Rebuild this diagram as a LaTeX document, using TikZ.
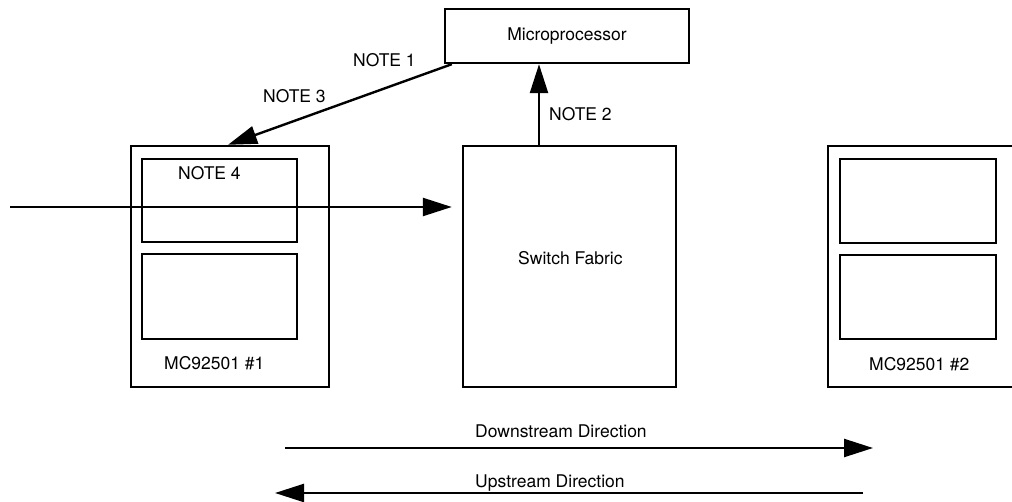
\documentclass[tikz,border=0pt]{standalone}
\usepackage{fontspec}
\setmainfont{TeX Gyre Heros}
\usetikzlibrary{arrows.meta}

\begin{document}
\begin{tikzpicture}[x=1pt, y=-1pt, line width=2.4pt,
    blk/.style={draw, rectangle, inner sep=0pt},
    txt/.style={inner sep=0pt, anchor=base west, font=\fontsize{17.5}{20}\selectfont},
    arr/.style={-{Triangle[length=29pt, width=18pt]}}]
		%%%%% START %%%%%
		\clip (0,0) rectangle (1012,502);
		
		\node[blk, minimum width=244pt, minimum height=54pt, font=\fontsize{17.5}{20}\selectfont] (micro) at (567,36) {Microprocessor};
		
		\node[blk, minimum width=213pt, minimum height=241pt] (fabric) at (569.5,266.5) {};
		\node[txt] (fabriclbl) at (517,265) {Switch Fabric};
		
		\node[blk, minimum width=198pt, minimum height=241pt] (dev1) at (230,266.5) {};
		\node[blk, minimum width=155pt, minimum height=83pt] (dev1a) at (219.5,200.5) {};
		\node[blk, minimum width=155pt, minimum height=85pt] (dev1b) at (219.5,296.5) {};
		\node[txt] (dev1lbl) at (163,370) {MC92501 \#1};
		\node[txt] (note4) at (177,180) {NOTE 4};
		
		\node[blk, minimum width=198pt, minimum height=241pt] (dev2) at (927,266.5) {};
		\node[blk, minimum width=156pt, minimum height=84pt] (dev2a) at (918,201) {};
		\node[blk, minimum width=156pt, minimum height=84pt] (dev2b) at (918,297) {};
		\node[txt] (dev2lbl) at (868,371) {MC92501 \#2};
		
		\coordinate (in) at (10,207);
		\draw[arr, shorten >=10pt] (in) -- (in -| fabric.west);
		
		\draw[arr] ([xshift=8pt]micro.south west) -- ([xshift=-2pt]dev1.north);
		\node[txt] (note1) at (352,67) {NOTE 1};
		\node[txt] (note3) at (262,103) {NOTE 3};
		
		\draw[arr] ([xshift=-30.5pt]fabric.north) -- ([xshift=-30.5pt]fabric.north |- micro.south);
		\node[txt] (note2) at (548,121) {NOTE 2};
		
		\coordinate (ds) at (285,448);
		\coordinate (de) at (873,448);
		\draw[arr] (ds) -- (de);
		\node[txt] (downlbl) at (474,437) {Downstream Direction};
		
		\coordinate (us) at (863,493);
		\coordinate (ue) at (275,493);
		\draw[arr] (us) -- (ue);
		\node[txt] (uplbl) at (474,487) {Upstream Direction};
		%%%%% END %%%%%
\end{tikzpicture}
\end{document}
